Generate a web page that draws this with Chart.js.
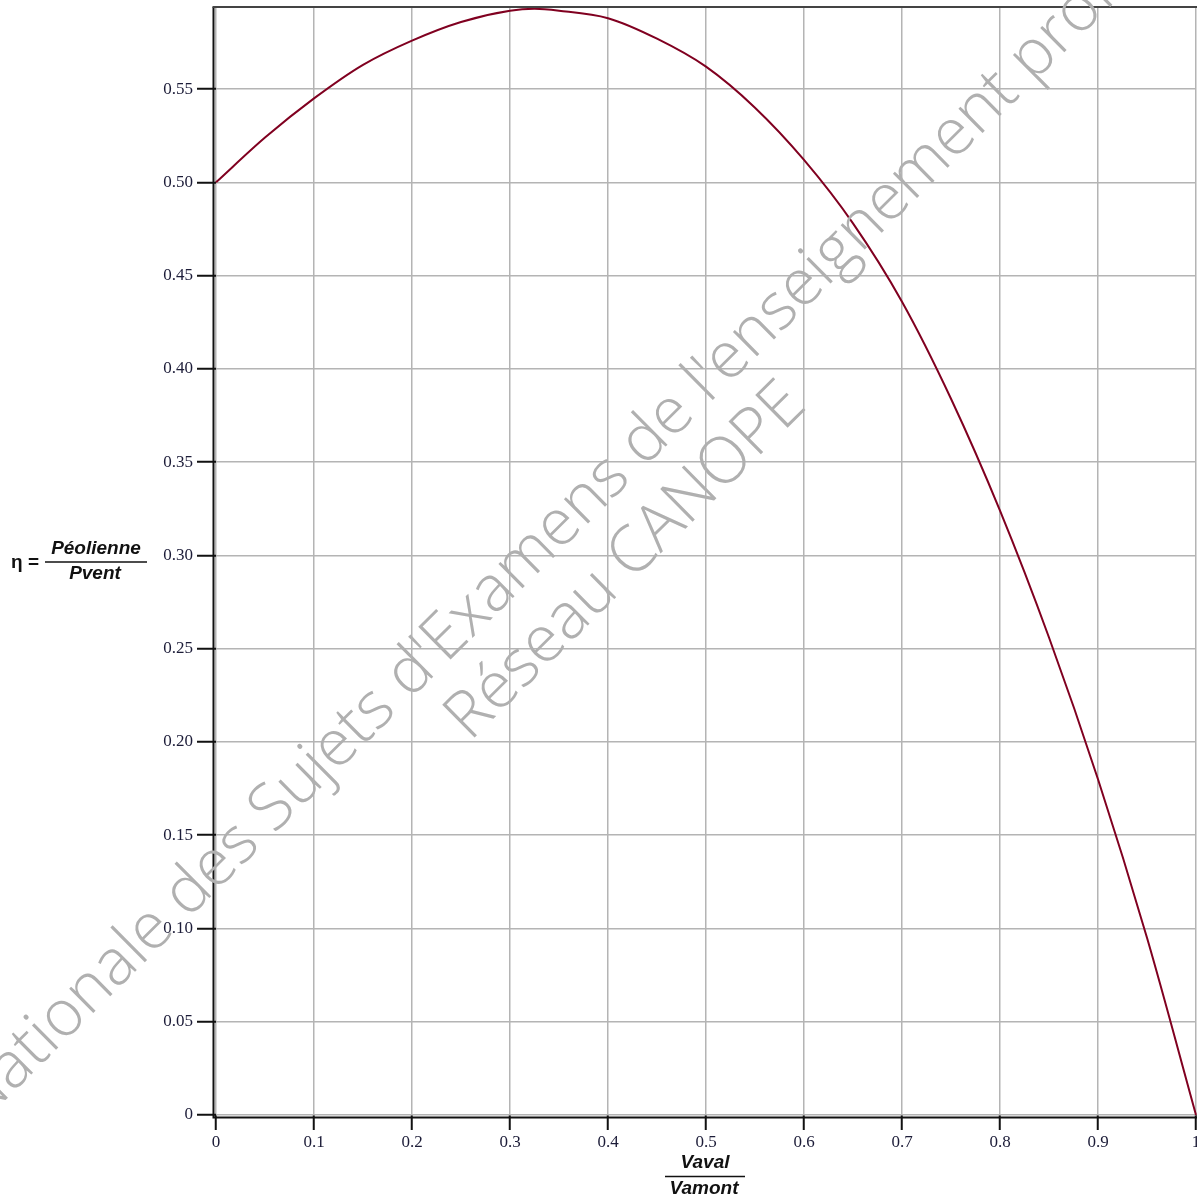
<!DOCTYPE html>
<html>
<head>
<meta charset="utf-8">
<script src="https://cdn.jsdelivr.net/npm/chart.js@4/dist/chart.umd.min.js"></script>
<style>
html,body{margin:0;padding:0;background:#fff;}
#wrap{position:relative;width:1197px;height:1198px;}
</style>
</head>
<body>
<div id="wrap"><canvas id="c" width="1197" height="1198"></canvas></div>
<script>
// Ratio Vaval/Vamont (x) and efficiency η (y)
const ratio = [0, 0.05, 0.1, 0.15, 0.2, 0.25, 0.3, 0.325, 0.35, 0.4, 0.45, 0.5, 0.55, 0.6, 0.65, 0.7, 0.75, 0.8, 0.85, 0.9, 0.95, 1];
const eta   = [0.500, 0.524, 0.545, 0.563, 0.576, 0.586, 0.592, 0.593, 0.592, 0.588, 0.577, 0.562, 0.540, 0.512, 0.478, 0.436, 0.384, 0.324, 0.256, 0.180, 0.095, 0.000];
const xTicks = [0, 0.1, 0.2, 0.3, 0.4, 0.5, 0.6, 0.7, 0.8, 0.9, 1];
const xTickLabels = ['0', '0.1', '0.2', '0.3', '0.4', '0.5', '0.6', '0.7', '0.8', '0.9', '1'];
const yTicks = [0, 0.05, 0.1, 0.15, 0.2, 0.25, 0.3, 0.35, 0.4, 0.45, 0.5, 0.55];
const yTickLabels = ['0', '0.05', '0.10', '0.15', '0.20', '0.25', '0.30', '0.35', '0.40', '0.45', '0.50', '0.55'];
const yMax = 0.594;
const watermark1 = "Banque Nationale des Sujets d'Examens de l'enseignement professionnel";
const watermark2 = "Réseau CANOPE";

const points = ratio.map((x, i) => ({x: x, y: eta[i]}));

const decor = {
  id: 'decor',
  afterDraw(chart) {
    const ctx = chart.ctx;
    const a = chart.chartArea;
    ctx.save();
    // black axis lines offset from plot area
    ctx.strokeStyle = '#111';
    ctx.lineWidth = 2;
    ctx.beginPath();
    ctx.moveTo(a.left - 2.5, a.top);
    ctx.lineTo(a.left - 2.5, a.bottom + 2.5);
    ctx.lineTo(a.right + 1, a.bottom + 2.5);
    ctx.stroke();
    // top border
    ctx.strokeStyle = '#444';
    ctx.lineWidth = 2;
    ctx.beginPath();
    ctx.moveTo(a.left - 3.5, a.top);
    ctx.lineTo(a.right + 1, a.top);
    ctx.stroke();

    // Y axis title (fraction)
    ctx.fillStyle = '#111';
    ctx.textBaseline = 'middle';
    ctx.font = 'bold 19px "Liberation Sans", Arial, sans-serif';
    ctx.textAlign = 'left';
    ctx.fillText('η =', 11, 563);
    ctx.font = 'italic bold 19px "Liberation Sans", Arial, sans-serif';
    ctx.textAlign = 'center';
    ctx.fillText('Péolienne', 96, 549);
    ctx.fillText('Pvent', 95, 574);
    ctx.lineWidth = 1.5;
    ctx.strokeStyle = '#111';
    ctx.beginPath();
    ctx.moveTo(45, 562); ctx.lineTo(147, 562);
    ctx.stroke();

    // X axis title (fraction)
    ctx.fillText('Vaval', 705, 1163);
    ctx.fillText('Vamont', 704, 1189);
    ctx.beginPath();
    ctx.moveTo(665, 1176.5); ctx.lineTo(745, 1176.5);
    ctx.stroke();

    // Watermark
    const fam = '"Open Sans", Lato, "DejaVu Sans", sans-serif';
    ctx.font = '300 60px ' + fam;
    const w2 = ctx.measureText(watermark2).width;
    const size = 60 * 476 / w2;
    ctx.font = '300 ' + size.toFixed(2) + 'px ' + fam;
    ctx.fillStyle = '#b0b0b0';
    ctx.textBaseline = 'alphabetic';
    ctx.textAlign = 'left';
    const ang = -44.7 * Math.PI / 180;
    // line 2
    ctx.save();
    ctx.translate(470, 742);
    ctx.rotate(ang);
    ctx.fillText(watermark2, 0, 0);
    ctx.restore();
    // line 1: anchor "Examens" E at (448, 662)
    const pre = ctx.measureText("Banque Nationale des Sujets d'").width;
    ctx.save();
    ctx.translate(446, 664);
    ctx.rotate(ang);
    ctx.fillText(watermark1, -pre, 0);
    ctx.restore();
    ctx.restore();
  }
};

new Chart(document.getElementById('c'), {
  type: 'line',
  data: {
    datasets: [{
      data: points,
      borderColor: '#800020',
      borderWidth: 2,
      pointRadius: 0,
      fill: false,
      cubicInterpolationMode: 'monotone',
      clip: false
    }]
  },
  options: {
    responsive: false,
    animation: false,
    events: [],
    layout: { autoPadding: false, padding: { top: 7, right: 1, left: 0, bottom: 0 } },
    plugins: { legend: { display: false }, tooltip: { enabled: false }, title: { display: false } },
    scales: {
      x: {
        type: 'linear', min: 0, max: 1,
        afterFit(s) { s.height = 83; s.paddingLeft = 0; s.paddingRight = 0; },
        afterBuildTicks(s) { s.ticks = xTicks.map(v => ({value: v})); },
        grid: { color: '#b4b4b4', lineWidth: 1.5, tickColor: '#111', tickWidth: 2, tickLength: 15, drawTicks: true },
        border: { display: false },
        ticks: {
          padding: 2, color: '#1c1c38', maxRotation: 0, autoSkip: false,
          font: { family: '"Liberation Serif", "Times New Roman", serif', size: 17 },
          callback: (v, i) => xTickLabels[i]
        }
      },
      y: {
        type: 'linear', min: 0, max: yMax,
        afterFit(s) { s.width = 216; s.paddingTop = 0; s.paddingBottom = 0; },
        afterBuildTicks(s) { s.ticks = yTicks.map(v => ({value: v})); },
        grid: { color: '#b4b4b4', lineWidth: 1.5, tickColor: '#111', tickWidth: 2, tickLength: 19, drawTicks: true },
        border: { display: false },
        ticks: {
          padding: 4, color: '#1c1c38', autoSkip: false,
          font: { family: '"Liberation Serif", "Times New Roman", serif', size: 17 },
          callback: (v, i) => yTickLabels[i]
        }
      }
    }
  },
  plugins: [decor]
});
</script>
</body>
</html>
